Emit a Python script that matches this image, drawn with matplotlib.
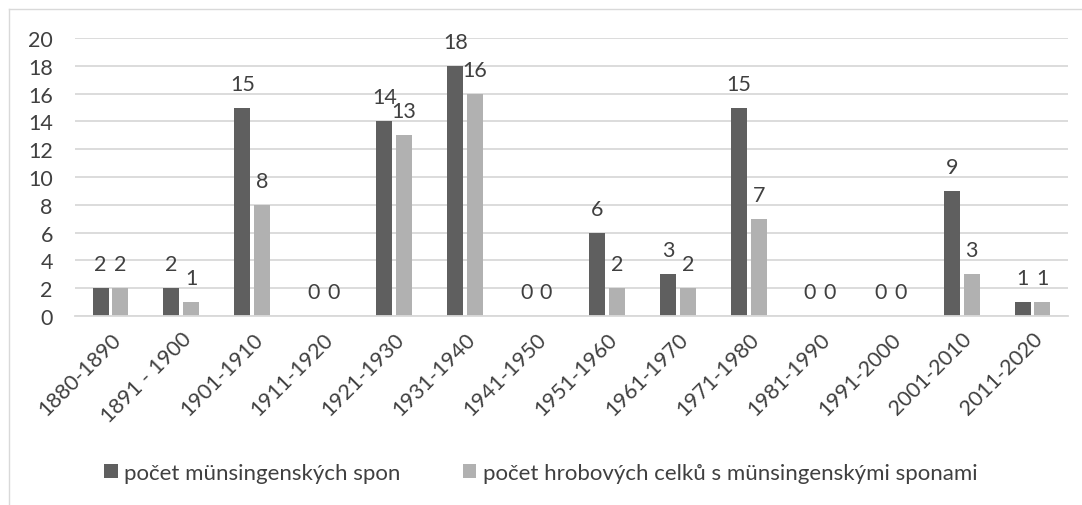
import matplotlib
matplotlib.use("Agg")
from matplotlib import pyplot as plt
import numpy as np

plt.rcParams['font.family'] = ['Lato', 'DejaVu Sans']

decades = ["1880-1890", "1891 - 1900", "1901-1910", "1911-1920", "1921-1930",
           "1931-1940", "1941-1950", "1951-1960", "1961-1970", "1971-1980",
           "1981-1990", "1991-2000", "2001-2010", "2011-2020"]
spony = [2, 2, 15, 0, 14, 18, 0, 6, 3, 15, 0, 0, 9, 1]
celky = [2, 1, 8, 0, 13, 16, 0, 2, 2, 7, 0, 0, 3, 1]

dark = "#5f5f5f"
light = "#b1b1b1"
txt = "#404040"

fig = plt.figure(figsize=(10.82, 5.06), dpi=100)
ax = fig.add_axes([75 / 1082, 1 - 317 / 506, (1068 - 75) / 1082, (317 - 39) / 506])

x = np.arange(len(decades))
w = 0.225
b1 = ax.bar(x - 0.14, spony, w, color=dark, label="počet münsingenských spon")
b2 = ax.bar(x + 0.14, celky, w, color=light,
            label="počet hrobových celků s münsingenskými sponami")

for bars, vals in ((b1, spony), (b2, celky)):
    for r, v in zip(bars, vals):
        ax.text(r.get_x() + r.get_width() / 2, v + 1.0, str(v), ha="center",
                va="bottom", fontsize=15.5, color=txt)

ax.set_xlim(-0.5, len(decades) - 0.5)
ax.set_ylim(0, 20)
ax.set_yticks(range(0, 21, 2))
ax.set_xticks(x)
ax.set_xticklabels(decades, rotation=45, ha="right", rotation_mode="anchor")
ax.tick_params(axis="both", length=0, labelsize=15.5, labelcolor=txt)
ax.tick_params(axis="y", pad=16)
ax.tick_params(axis="x", pad=9)
ax.grid(axis="y", color="#d9d9d9", linewidth=1.3)
ax.set_axisbelow(True)
for s in ["top", "right", "left"]:
    ax.spines[s].set_visible(False)
ax.spines["bottom"].set_color("#d9d9d9")
ax.spines["bottom"].set_linewidth(1.3)

fig.legend(loc="center", bbox_to_anchor=(0.5, 1 - 474 / 506), ncol=2, frameon=False,
           fontsize=16, labelcolor=txt, handlelength=0.6, handleheight=0.6,
           columnspacing=2.8, handletextpad=0.3)

# chart border
fig.add_artist(plt.Line2D([9 / 1082, 9 / 1082], [0, 1 - 10 / 506], color="#d9d9d9",
                          linewidth=1, transform=fig.transFigure))
fig.add_artist(plt.Line2D([9 / 1082, 1], [1 - 10 / 506, 1 - 10 / 506], color="#d9d9d9",
                          linewidth=1, transform=fig.transFigure))

fig.savefig("out.png", dpi=100, facecolor="white")
